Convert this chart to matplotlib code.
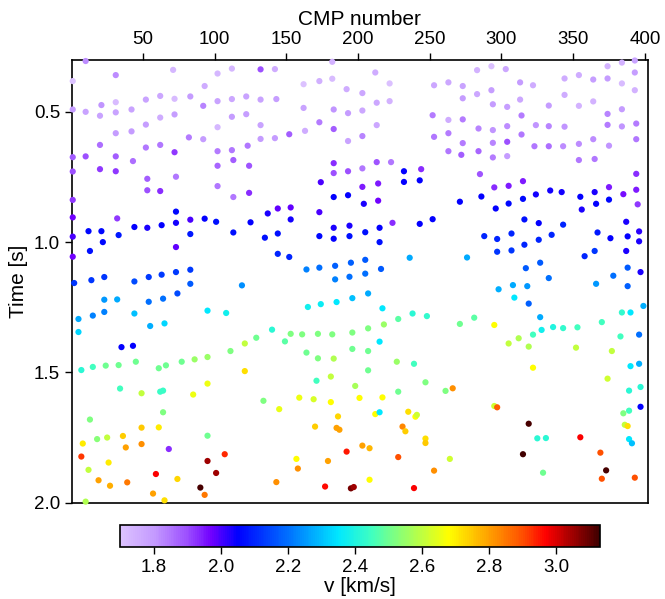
import matplotlib
matplotlib.use("Agg")
import matplotlib.pyplot as plt
import numpy as np
from matplotlib.colors import LinearSegmentedColormap, Normalize

plt.rcParams['font.family'] = ['Liberation Sans', 'DejaVu Sans']

# picked events: CMP index, two-way time [s], stacking velocity [km/s]
cmp = [
    10, 1, 31, 71, 93, 31, 52, 62, 72, 83, 92, 1, 10, 21, 20, 31, 42, 62, 72, 52,
    31, 42, 20, 52, 62, 82, 92, 1, 10, 31, 43, 72, 1, 20, 31, 53, 73, 53, 62, 1,
    102, 112, 132, 142, 182, 162, 173, 182, 192, 102, 112, 122, 132, 143, 162, 183, 193, 112, 122, 102,
    132, 173, 183, 163, 132, 142, 152, 193, 102, 112, 123, 102, 113, 124, 183, 183, 193, 174, 102, 113,
    124, 183, 193,
    212, 222, 283, 293, 203, 213, 222, 253, 263, 273, 273, 283, 293, 294, 203, 252, 263, 273, 213, 284,
    294, 203, 253, 263, 273, 294, 263, 272, 284, 294, 203, 213, 223, 232, 244, 285, 203, 214, 232, 243,
    295, 204, 214, 271, 286,
    303, 313, 322, 344, 354, 364, 374, 374, 384, 393, 393, 384, 393, 313, 344, 304, 333, 354, 364, 384,
    374, 314, 304, 324, 333, 344, 374, 384, 394, 314, 304, 323, 333, 343, 354, 364, 375, 394, 304, 354,
    365, 394, 305, 315, 324, 334, 342, 355, 365, 375, 385, 394, 305, 315, 366, 375, 395,
    1, 32, 1, 1, 12, 21, 22, 13, 33, 44, 53, 63, 73, 73, 83, 93, 83, 73, 2, 14,
    23, 44, 54, 63, 73, 83, 83, 23, 32, 54, 64, 74, 5, 15, 23, 44, 55, 65, 95, 5,
    35, 43,
    101, 113, 125, 137, 144, 153, 153, 173, 135, 144, 173, 183, 183, 194, 194, 144, 152, 164, 173, 184,
    195, 184, 194, 119, 165, 174, 185, 196, 108, 140, 129, 121, 153, 161, 172, 182, 196, 149,
    296, 224, 243, 252, 205, 215, 215, 288, 297, 297, 205, 216, 205, 236, 276, 207, 298, 217, 238, 248,
    228, 281, 271, 218, 207, 295, 215,
    356, 316, 326, 343, 307, 326, 335, 316, 307, 367, 376, 387, 388, 396, 396, 387, 358, 365, 327, 317,
    333, 388, 378, 397, 308, 318, 366, 388, 309, 319, 327, 399, 384, 390, 370, 328, 336, 343, 353, 322,
    312, 305, 319, 352, 383, 396,
    7, 15, 24, 33, 45, 61, 66, 77, 86, 95, 34, 49, 62, 64, 85, 95, 64, 13, 49, 61,
    36, 8, 18, 25, 38, 49, 95, 68, 7, 26, 12, 59, 95, 19, 27, 39, 74, 57, 65, 90,
    93, 10,
    111, 164, 172, 183, 196, 121, 171, 181, 198, 134, 145, 159, 169, 181, 186, 170, 185, 187, 107, 101,
    157, 179, 158, 192, 143, 177, 195, 197,
    207, 227, 239, 207, 247, 228, 261, 266, 201, 217, 212, 215, 235, 240, 241, 295, 297, 231, 233, 247,
    247, 203, 208, 228, 264, 253, 208, 239,
    377, 390, 396, 322, 374, 389, 397, 397, 385, 389, 386, 388, 319, 325, 331, 355, 389, 391, 315, 369,
    329, 373, 370, 393,
]

time = [
    0.305, 0.382, 0.359, 0.339, 0.401, 0.463, 0.453, 0.439, 0.450, 0.441, 0.477, 0.491, 0.500, 0.474, 0.515, 0.502, 0.491, 0.522, 0.510, 0.549,
    0.582, 0.575, 0.627, 0.637, 0.627, 0.598, 0.605, 0.674, 0.671, 0.671, 0.689, 0.655, 0.729, 0.720, 0.728, 0.757, 0.749, 0.801, 0.804, 0.838,
    0.353, 0.334, 0.337, 0.336, 0.308, 0.394, 0.382, 0.373, 0.413, 0.459, 0.451, 0.441, 0.453, 0.451, 0.485, 0.491, 0.505, 0.519, 0.509, 0.559,
    0.551, 0.540, 0.566, 0.573, 0.604, 0.601, 0.586, 0.612, 0.651, 0.647, 0.630, 0.707, 0.685, 0.707, 0.697, 0.735, 0.728, 0.770, 0.785, 0.827,
    0.811, 0.827, 0.820,
    0.349, 0.391, 0.340, 0.325, 0.428, 0.465, 0.459, 0.398, 0.387, 0.401, 0.448, 0.432, 0.417, 0.471, 0.495, 0.513, 0.531, 0.529, 0.551, 0.564,
    0.570, 0.593, 0.596, 0.582, 0.620, 0.619, 0.651, 0.665, 0.651, 0.675, 0.717, 0.693, 0.693, 0.728, 0.720, 0.739, 0.788, 0.775, 0.769, 0.763,
    0.790, 0.853, 0.841, 0.845, 0.825,
    0.336, 0.387, 0.398, 0.372, 0.359, 0.376, 0.372, 0.325, 0.311, 0.303, 0.349, 0.391, 0.417, 0.453, 0.435, 0.481, 0.476, 0.477, 0.460, 0.490,
    0.508, 0.514, 0.555, 0.551, 0.555, 0.557, 0.550, 0.556, 0.545, 0.587, 0.615, 0.632, 0.632, 0.632, 0.623, 0.605, 0.630, 0.605, 0.670, 0.685,
    0.681, 0.738, 0.784, 0.766, 0.817, 0.802, 0.808, 0.826, 0.808, 0.789, 0.816, 0.799, 0.852, 0.834, 0.853, 0.837, 0.855,
    0.905, 0.909, 0.979, 1.056, 0.958, 0.958, 1.000, 1.034, 0.973, 0.942, 0.945, 0.935, 0.883, 0.926, 0.914, 0.910, 0.969, 1.019, 1.157, 1.146,
    1.134, 1.151, 1.134, 1.125, 1.115, 1.106, 1.160, 1.221, 1.220, 1.229, 1.217, 1.197, 1.295, 1.282, 1.268, 1.274, 1.322, 1.312, 1.263, 1.345,
    1.403, 1.398,
    0.922, 0.963, 0.924, 0.890, 0.871, 0.867, 0.913, 0.885, 0.983, 0.967, 0.977, 0.945, 0.987, 0.937, 0.977, 1.045, 1.057, 1.105, 1.098, 1.091,
    1.079, 1.143, 1.133, 1.166, 1.249, 1.238, 1.230, 1.215, 1.272, 1.336, 1.367, 1.389, 1.352, 1.354, 1.352, 1.354, 1.347, 1.381,
    0.871, 0.926, 0.930, 0.912, 0.962, 0.945, 1.000, 0.977, 0.988, 1.037, 1.068, 1.103, 1.121, 1.060, 1.059, 1.197, 1.181, 1.254, 1.274, 1.284,
    1.295, 1.290, 1.314, 1.316, 1.331, 1.318, 1.382,
    0.875, 0.913, 0.927, 0.933, 0.967, 0.991, 0.972, 1.010, 1.032, 0.963, 0.985, 0.922, 0.978, 0.959, 0.997, 1.034, 1.054, 1.034, 1.079, 1.100,
    1.138, 1.098, 1.129, 1.115, 1.165, 1.169, 1.160, 1.169, 1.213, 1.236, 1.288, 1.245, 1.270, 1.270, 1.307, 1.337, 1.326, 1.330, 1.327, 1.355,
    1.369, 1.389, 1.401, 1.405, 1.362, 1.355,
    1.491, 1.479, 1.474, 1.472, 1.459, 1.484, 1.473, 1.459, 1.450, 1.441, 1.562, 1.580, 1.574, 1.570, 1.585, 1.543, 1.653, 1.681, 1.712, 1.711,
    1.744, 1.773, 1.756, 1.750, 1.788, 1.775, 1.743, 1.794, 1.823, 1.846, 1.874, 1.890, 1.840, 1.914, 1.935, 1.922, 1.909, 1.965, 1.991, 1.942,
    1.970, 1.996,
    1.418, 1.424, 1.446, 1.447, 1.410, 1.495, 1.532, 1.516, 1.552, 1.609, 1.641, 1.597, 1.603, 1.614, 1.669, 1.708, 1.713, 1.720, 1.814, 1.886,
    1.832, 1.840, 1.869, 1.804, 1.921, 1.938, 1.945, 1.940,
    1.418, 1.459, 1.467, 1.492, 1.538, 1.574, 1.571, 1.561, 1.598, 1.596, 1.660, 1.653, 1.651, 1.670, 1.663, 1.629, 1.634, 1.708, 1.726, 1.754,
    1.771, 1.781, 1.791, 1.825, 1.832, 1.877, 1.912, 1.944,
    1.418, 1.476, 1.467, 1.482, 1.524, 1.570, 1.556, 1.632, 1.657, 1.647, 1.701, 1.706, 1.697, 1.753, 1.752, 1.749, 1.756, 1.772, 1.814, 1.808,
    1.885, 1.876, 1.908, 1.904,
]

velocity = [
    1.82, 1.70, 1.82, 1.73, 1.76, 1.72, 1.78, 1.77, 1.72, 1.80, 1.83, 1.80, 1.78, 1.81, 1.78, 1.78, 1.78, 1.76, 1.79, 1.79,
    1.80, 1.80, 1.86, 1.85, 1.85, 1.84, 1.80, 1.88, 1.90, 1.88, 1.86, 1.92, 1.90, 1.92, 1.92, 1.88, 1.85, 1.90, 1.93, 1.92,
    1.73, 1.73, 1.90, 1.76, 1.74, 1.70, 1.75, 1.72, 1.76, 1.78, 1.77, 1.78, 1.78, 1.79, 1.78, 1.81, 1.80, 1.80, 1.79, 1.73,
    1.78, 1.84, 1.88, 1.76, 1.80, 1.80, 1.88, 1.78, 1.84, 1.85, 1.85, 1.87, 1.88, 1.89, 1.93, 1.90, 1.90, 2.00, 1.85, 1.85,
    1.93, 2.05, 2.05,
    1.76, 1.71, 1.74, 1.71, 1.77, 1.77, 1.74, 1.77, 1.77, 1.78, 1.80, 1.77, 1.79, 1.80, 1.77, 1.84, 1.76, 1.84, 1.77, 1.83,
    1.81, 1.83, 1.85, 1.84, 1.84, 1.83, 1.85, 1.88, 1.87, 1.84, 1.85, 1.89, 1.85, 2.05, 1.93, 1.89, 1.95, 1.95, 2.05, 2.05,
    1.93, 2.03, 1.97, 2.05, 2.05,
    1.77, 1.80, 1.76, 1.76, 1.76, 1.79, 1.80, 1.74, 1.74, 1.78, 1.79, 1.72, 1.74, 1.77, 1.76, 1.79, 1.80, 1.74, 1.74, 1.80,
    1.83, 1.84, 1.82, 1.81, 1.83, 1.81, 1.84, 1.81, 1.84, 1.85, 1.90, 1.85, 1.86, 1.82, 1.82, 1.82, 1.81, 1.85, 1.80, 1.85,
    1.85, 1.93, 1.95, 1.95, 2.04, 2.04, 2.04, 2.05, 2.03, 1.95, 1.96, 1.95, 2.06, 2.06, 2.05, 2.06, 1.92,
    1.97, 1.92, 2.00, 1.97, 2.06, 2.06, 2.06, 2.07, 2.08, 2.05, 2.03, 2.05, 2.06, 2.04, 2.00, 2.05, 2.08, 1.98, 2.12, 2.12,
    2.12, 2.15, 2.13, 2.13, 2.13, 2.13, 2.17, 2.25, 2.27, 2.20, 2.20, 2.15, 2.27, 2.22, 2.22, 2.30, 2.28, 2.33, 2.35, 2.33,
    2.05, 2.05,
    2.07, 2.07, 2.05, 2.03, 1.98, 1.98, 2.04, 2.00, 2.07, 2.07, 2.06, 2.03, 2.05, 2.03, 2.07, 2.10, 2.10, 2.22, 2.20, 2.18,
    2.18, 2.22, 2.20, 2.24, 2.38, 2.37, 2.35, 2.30, 2.38, 2.42, 2.50, 2.60, 2.52, 2.52, 2.52, 2.52, 2.52, 2.48,
    2.05, 1.93, 2.05, 2.05, 2.07, 2.05, 2.07, 2.10, 2.10, 2.12, 2.17, 2.17, 2.20, 2.27, 2.27, 2.27, 2.28, 2.35, 2.42, 2.43,
    2.48, 2.48, 2.50, 2.55, 2.52, 2.68, 2.35,
    2.03, 2.07, 2.05, 2.10, 2.10, 2.10, 2.10, 2.10, 2.12, 2.08, 2.05, 2.03, 2.05, 2.02, 2.03, 2.03, 2.10, 2.12, 2.17, 2.17,
    2.20, 2.17, 2.20, 2.03, 2.27, 2.25, 2.25, 2.18, 2.35, 2.18, 2.27, 2.28, 2.43, 2.35, 2.45, 2.38, 2.40, 2.43, 2.45, 2.45,
    2.58, 2.60, 2.58, 2.60, 2.45, 2.20,
    2.42, 2.45, 2.50, 2.50, 2.50, 2.50, 2.50, 2.50, 2.55, 2.55, 2.45, 2.60, 2.44, 2.44, 2.66, 2.66, 2.52, 2.52, 2.75, 2.70,
    2.74, 2.70, 2.53, 2.60, 2.80, 2.82, 2.50, 1.93, 2.92, 2.70, 2.60, 2.97, 3.05, 2.80, 2.78, 2.85, 2.73, 2.80, 2.72, 3.12,
    2.85, 2.58,
    2.52, 2.50, 2.52, 2.58, 2.50, 2.72, 2.45, 2.60, 2.57, 2.52, 2.65, 2.66, 2.63, 2.68, 2.73, 2.74, 2.80, 2.80, 2.93, 3.05,
    2.68, 2.80, 2.82, 2.95, 2.82, 2.96, 3.08, 3.05,
    2.50, 2.55, 2.45, 2.50, 2.52, 2.50, 2.52, 2.82, 2.68, 2.68, 2.68, 2.35, 2.72, 2.68, 2.62, 2.62, 2.88, 2.83, 2.74, 2.72,
    2.75, 2.80, 2.77, 2.90, 2.62, 2.82, 2.68, 2.97,
    2.60, 2.35, 2.28, 2.68, 2.62, 2.42, 2.42, 2.05, 2.52, 2.45, 2.60, 2.72, 3.12, 2.42, 2.42, 2.97, 2.35, 2.30, 3.13, 2.90,
    2.50, 3.12, 2.90, 2.90,
]

# lavender -> purple -> blue -> cyan -> green -> yellow -> red -> dark red
anchors = [
    (1.70, "#dcc2ff"), (1.80, "#c49aff"), (1.90, "#9b4dff"), (1.97, "#7000ff"),
    (2.05, "#0000ff"), (2.20, "#0070ff"), (2.35, "#00e8ff"), (2.45, "#40ffc0"),
    (2.52, "#80ff80"), (2.68, "#ffff00"), (2.80, "#ffa000"), (2.90, "#ff5000"),
    (2.97, "#ff0000"), (3.13, "#400000"),
]
lo, hi = anchors[0][0], anchors[-1][0]
cmap = LinearSegmentedColormap.from_list(
    "vel", [((v - lo) / (hi - lo), c) for v, c in anchors])
norm = Normalize(vmin=min(velocity), vmax=max(velocity))

fig = plt.figure(figsize=(6.65, 5.99), dpi=100)
ax = fig.add_axes([0.1083, 0.1608, 0.8657, 0.7395])

sc = ax.scatter(cmp, time, c=velocity, cmap=cmap, norm=norm, s=20,
                linewidths=0, clip_on=False, zorder=3)

ax.set_xlim(0.5, 402)
ax.set_ylim(2.0, 0.3)
ax.xaxis.tick_top()
ax.xaxis.set_label_position("top")
ax.set_xticks([50, 100, 150, 200, 250, 300, 350, 400])
ax.set_yticks([0.5, 1.0, 1.5, 2.0])
ax.set_xlabel("CMP number", fontsize=15, labelpad=4)
ax.set_ylabel("Time [s]", fontsize=15, labelpad=4)
ax.tick_params(labelsize=13.5, direction="out", length=5, width=1.0)
for sp in ax.spines.values():
    sp.set_linewidth(1.2)

cax = fig.add_axes([0.1805, 0.0868, 0.7218, 0.0367])
cb = fig.colorbar(sc, cax=cax, orientation="horizontal")
cb.set_ticks([1.8, 2.0, 2.2, 2.4, 2.6, 2.8, 3.0])
cb.ax.tick_params(labelsize=13.5, length=5, width=1.0)
cb.set_label("v [km/s]", fontsize=15, labelpad=1)
cb.outline.set_linewidth(1.2)

fig.savefig("out.png", dpi=100)
